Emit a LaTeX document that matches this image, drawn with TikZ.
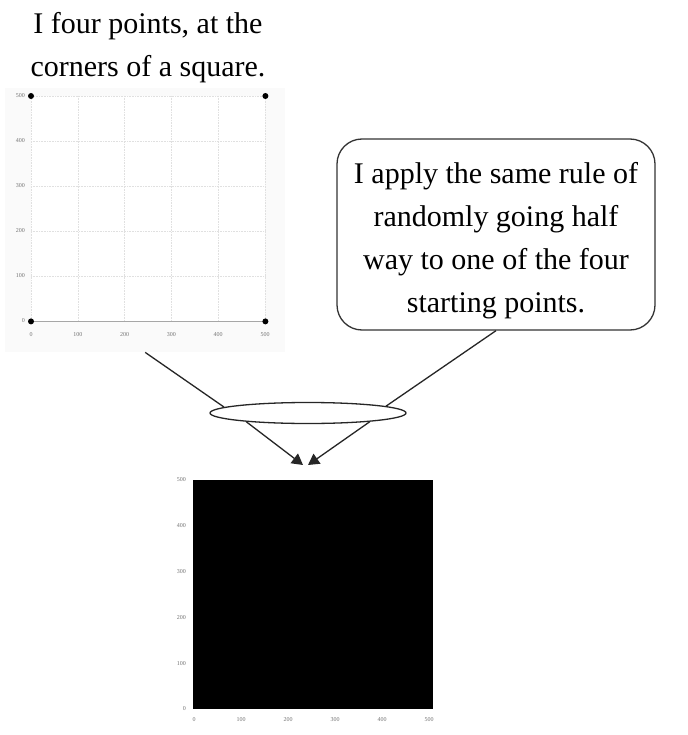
\documentclass[tikz,border=0pt]{standalone}
\usepackage{fontspec}
\setmainfont{Liberation Serif}
\usetikzlibrary{arrows.meta,shapes.geometric}
\begin{document}
\begin{tikzpicture}[x=1pt,y=-1pt,
  txt/.style={font=\fontsize{30}{43}\selectfont, align=center, inner sep=0pt, anchor=base},
  tick/.style={font=\fontsize{6}{6}\selectfont, text=black!55, inner sep=0pt},
  conn/.style={line width=1.3pt, draw=black!85},
  arr/.style={conn, -{Triangle[length=11pt,width=12pt]}},
  gridline/.style={black!12, densely dotted, line width=0.6pt}
]
\useasboundingbox (0,0) rectangle (687,735);
\fill[white] (0,0) rectangle (687,735);

% top-left plot
\node[fill=black!2, minimum width=280pt, minimum height=264pt, inner sep=0pt, anchor=north west] (panelA) at (5,88) {};
\node[fill=white, minimum width=234pt, minimum height=225pt, inner sep=0pt, anchor=north west] (plotA) at (31,96) {};
\foreach \k in {0,...,5} {
  \draw[gridline] (31+46.8*\k,96) -- (31+46.8*\k,321);
  \draw[gridline] (31,96+45*\k) -- (265,96+45*\k);
}
\draw[black!35, line width=1.5pt] (plotA.south west) -- (plotA.south east);
\foreach \v [count=\i from 0] in {0,100,200,300,400,500} {
  \node[tick, anchor=east] (ya\i) at (25,321-45*\i) {\v};
  \node[tick] (xa\i) at (31+46.8*\i,335) {\v};
}
\foreach \c in {north west,north east,south west,south east}
  \fill (plotA.\c) circle (3pt);

% top text (base anchor = last line's baseline)
\node[txt] (toptxt) at (148,77) {I four points, at the\\corners of a square.};

% callout
\node[draw=black!80, rounded corners=25pt, line width=1.3pt, minimum width=318pt, minimum height=191pt, inner sep=0pt] (call) at (496,234.5) {};
\node[txt] (calltxt) at (496,312) {I apply the same rule of\\randomly going half\\way to one of the four\\starting points.};

% junction ellipse
\node[ellipse, draw=black!85, line width=1.3pt, fill=white, minimum width=196pt, minimum height=21pt, inner sep=0pt] (junc) at (308,413) {};

\coordinate (tipA) at (303,465);
\coordinate (tipB) at (308,465);
\draw[conn] (panelA.south) -- (junc.176);
\draw[conn] (call.south) -- (junc.5);
\draw[arr] (junc.188) -- (tipA);
\draw[arr] (junc.352) -- (tipB);

% bottom plot
\node[fill=black, minimum width=240pt, minimum height=229pt, inner sep=0pt, anchor=north west] (plotB) at (193,480) {};
\foreach \v [count=\i from 0] in {0,100,200,300,400,500} {
  \node[tick, anchor=east] (yb\i) at (186,709-45.8*\i) {\v};
  \node[tick] (xb\i) at (194+47*\i,720) {\v};
}
\end{tikzpicture}
\end{document}
